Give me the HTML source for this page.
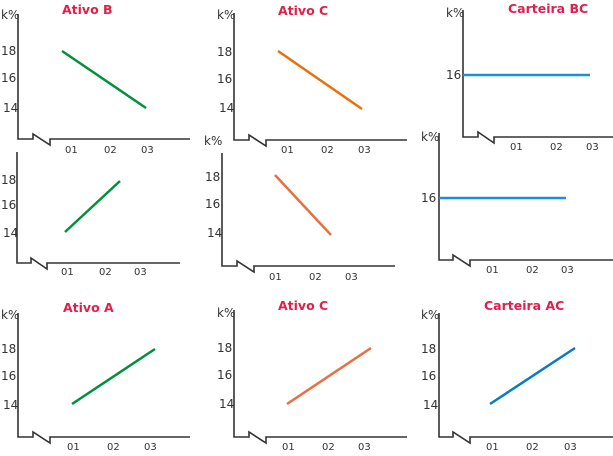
<!DOCTYPE html>
<html><head><meta charset="utf-8"><style>
html,body{margin:0;padding:0;background:#fff;}
svg{display:block;font-family:"DejaVu Sans","Liberation Sans",sans-serif;}
.ax{fill:none;stroke:#333;stroke-width:1.6;}
.t{font-size:12px;fill:#333;}
.h{font-size:12.5px;font-weight:bold;fill:#e0204a;}
.x{font-size:10px;fill:#333;}
</style></head><body>
<svg width="613" height="456" viewBox="0 0 613 456">
<text class="h" x="62" y="14">Ativo B</text>
<path class="ax" d="M18,14 L18,139 L33,139 L33,134 L50,145 L50,139 L190,139"/>
<text class="t" x="1" y="19">k%</text>
<text class="t" x="1" y="55">18</text><text class="t" x="1" y="82">16</text><text class="t" x="3" y="112">14</text>
<text class="x" x="65" y="153">01</text><text class="x" x="104" y="153">02</text><text class="x" x="141" y="153">03</text>
<line x1="62" y1="51" x2="146" y2="108" stroke="#00903c" stroke-width="2.5"/>
<path class="ax" d="M17,152 L17,263 L31,263 L31,258 L47,269 L47,263 L180,263"/>
<text class="t" x="1" y="184">18</text><text class="t" x="1" y="209">16</text><text class="t" x="3" y="237">14</text>
<text class="x" x="61" y="275">01</text><text class="x" x="99" y="275">02</text><text class="x" x="134" y="275">03</text>
<line x1="65" y1="232" x2="120" y2="181" stroke="#00903c" stroke-width="2.5"/>
<text class="h" x="278" y="15">Ativo C</text>
<path class="ax" d="M234,13 L234,140 L249,140 L249,135 L266,146 L266,140 L407,140"/>
<text class="t" x="217" y="19">k%</text>
<text class="t" x="217" y="56">18</text><text class="t" x="217" y="83">16</text><text class="t" x="219" y="112">14</text>
<text class="x" x="281" y="153">01</text><text class="x" x="321" y="153">02</text><text class="x" x="358" y="153">03</text>
<line x1="278" y1="51" x2="362" y2="109" stroke="#e8700a" stroke-width="2.5"/>
<text class="t" x="204" y="145">k%</text>
<path class="ax" d="M222,153 L222,266 L237,266 L237,261 L254,272 L254,266 L395,266"/>
<text class="t" x="205" y="181">18</text><text class="t" x="205" y="208">16</text><text class="t" x="207" y="237">14</text>
<text class="x" x="269" y="280">01</text><text class="x" x="309" y="280">02</text><text class="x" x="345" y="280">03</text>
<line x1="275" y1="175" x2="331" y2="235" stroke="#e87040" stroke-width="2.5"/>
<text class="h" x="508" y="13">Carteira BC</text>
<path class="ax" d="M463,10 L463,137 L478,137 L478,132 L494,143 L494,137 L613,137"/>
<text class="t" x="446" y="17">k%</text>
<text class="t" x="446" y="79">16</text>
<text class="x" x="510" y="150">01</text><text class="x" x="550" y="150">02</text><text class="x" x="586" y="150">03</text>
<line x1="463" y1="75" x2="590" y2="75" stroke="#1a8fe0" stroke-width="2.5"/>
<path class="ax" d="M439,133 L439,260 L453,260 L453,255 L470,266 L470,260 L613,260"/>
<text class="t" x="421" y="141">k%</text>
<text class="t" x="421" y="202">16</text>
<text class="x" x="486" y="273">01</text><text class="x" x="526" y="273">02</text><text class="x" x="561" y="273">03</text>
<line x1="439" y1="198" x2="566" y2="198" stroke="#1a8fe0" stroke-width="2.5"/>
<text class="h" x="63" y="312">Ativo A</text>
<path class="ax" d="M18,313 L18,437 L33,437 L33,432 L50,443 L50,437 L190,437"/>
<text class="t" x="1" y="319">k%</text>
<text class="t" x="1" y="353">18</text><text class="t" x="1" y="380">16</text><text class="t" x="3" y="409">14</text>
<text class="x" x="67" y="450">01</text><text class="x" x="107" y="450">02</text><text class="x" x="144" y="450">03</text>
<line x1="72" y1="404" x2="155" y2="349" stroke="#00903c" stroke-width="2.5"/>
<text class="h" x="278" y="310">Ativo C</text>
<path class="ax" d="M234,310 L234,437 L249,437 L249,432 L266,443 L266,437 L407,437"/>
<text class="t" x="217" y="317">k%</text>
<text class="t" x="217" y="352">18</text><text class="t" x="217" y="379">16</text><text class="t" x="219" y="408">14</text>
<text class="x" x="282" y="450">01</text><text class="x" x="322" y="450">02</text><text class="x" x="358" y="450">03</text>
<line x1="287" y1="404" x2="371" y2="348" stroke="#e87040" stroke-width="2.5"/>
<text class="h" x="484" y="310">Carteira AC</text>
<path class="ax" d="M439,313 L439,437 L453,437 L453,432 L470,443 L470,437 L613,437"/>
<text class="t" x="421" y="319">k%</text>
<text class="t" x="421" y="353">18</text><text class="t" x="421" y="380">16</text><text class="t" x="423" y="409">14</text>
<text class="x" x="486" y="450">01</text><text class="x" x="526" y="450">02</text><text class="x" x="564" y="450">03</text>
<line x1="490" y1="404" x2="575" y2="348" stroke="#0a7ac8" stroke-width="2.5"/>
</svg>
</body></html>
